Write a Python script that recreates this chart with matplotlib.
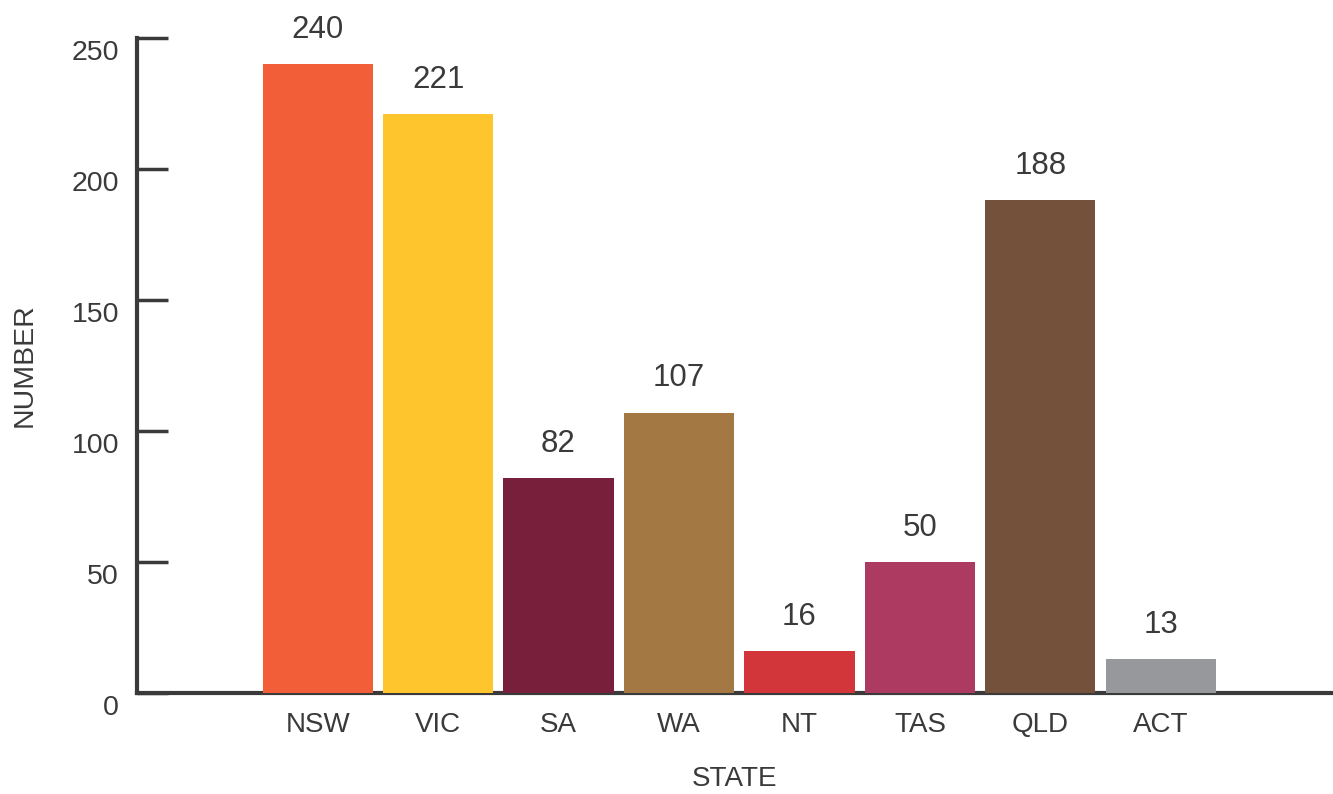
import matplotlib
matplotlib.use('Agg')
import matplotlib.pyplot as plt
import matplotlib.transforms as mtransforms
import numpy as np

states = ['NSW', 'VIC', 'SA', 'WA', 'NT', 'TAS', 'QLD', 'ACT']
numbers = [240, 221, 82, 107, 16, 50, 188, 13]
colors = ['#F15E38', '#FFC52D', '#781F3C', '#A37843',
          '#D3363A', '#AD3A60', '#73513A', '#97989B']
yticks = [0, 50, 100, 150, 200, 250]

plt.rcParams['font.family'] = ['Liberation Sans', 'DejaVu Sans']
text_col = '#3a3a3a'

fig = plt.figure(figsize=(13.33, 7.94), dpi=100)
ax = fig.add_axes([137 / 1333, 101 / 794, 1196 / 1333, 655 / 794])

x = np.arange(len(states))
ax.bar(x, numbers, width=0.915, color=colors, zorder=3)

for xi, v in zip(x, numbers):
    ax.annotate(str(v), (xi, v), xytext=(0, 19), textcoords='offset points',
                ha='center', va='baseline', fontsize=22.5, color=text_col)

ax.set_xlim(-1.5, 8.43)
ax.set_ylim(0, 250)

for side in ['top', 'right']:
    ax.spines[side].set_visible(False)
for side in ['left', 'bottom']:
    ax.spines[side].set_linewidth(3)
    ax.spines[side].set_color(text_col)

ax.set_yticks(yticks)
ax.tick_params(axis='y', direction='in', length=22, width=2.5, color=text_col,
               labelsize=20.5, labelcolor=text_col, pad=13)
ax.set_xticks(x)
ax.set_xticklabels(states)
ax.tick_params(axis='x', length=0, labelsize=20, labelcolor=text_col, pad=14)

# y labels sit a little below their ticks in the original
offset = mtransforms.ScaledTranslation(0, -12 / 100, fig.dpi_scale_trans)
for lab in ax.get_yticklabels():
    lab.set_transform(lab.get_transform() + offset)

ax.set_xlabel('STATE', fontsize=20, color=text_col, labelpad=20)
ax.set_ylabel('NUMBER', fontsize=20.5, color=text_col, labelpad=24)

fig.savefig('out.png', dpi=100)
